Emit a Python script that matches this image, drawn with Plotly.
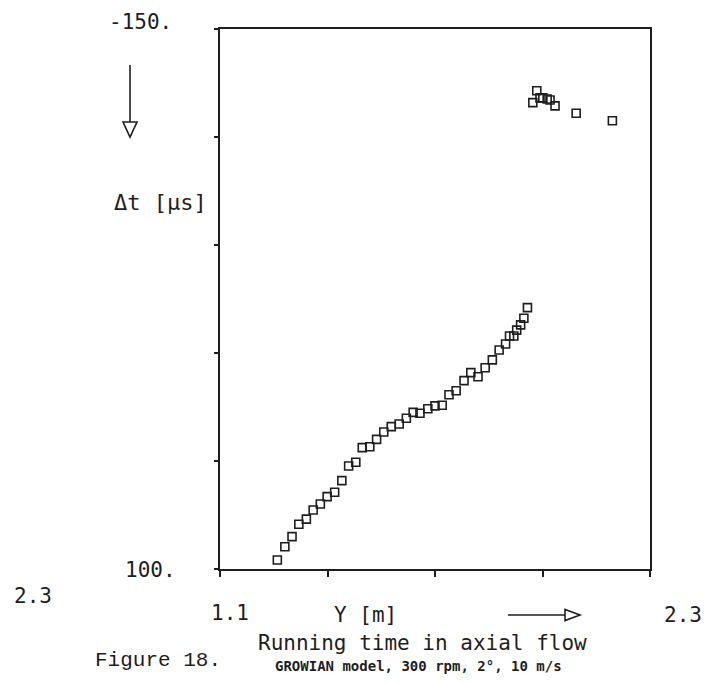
import plotly.graph_objects as go

# ---- data ----
y_pos_m = [1.260, 1.281, 1.301, 1.320, 1.341, 1.360, 1.380, 1.399, 1.420, 1.440,
           1.459, 1.479, 1.497, 1.518, 1.537, 1.557, 1.578, 1.600, 1.620, 1.639,
           1.658, 1.680, 1.700, 1.720, 1.739, 1.759, 1.781, 1.800, 1.820, 1.840,
           1.860, 1.879, 1.897, 1.908, 1.920, 1.928, 1.939, 1.948, 1.958,
           1.973, 1.984, 1.993, 2.001, 2.013, 2.021, 2.035, 2.094, 2.195]
delta_t_us = [95.8, 89.7, 85.0, 79.3, 76.9, 72.7, 69.9, 66.5, 64.5, 59.1,
              52.3, 50.6, 43.8, 43.4, 40.0, 36.6, 34.1, 32.9, 30.2, 27.5,
              27.9, 25.8, 24.5, 24.2, 19.3, 17.5, 12.8, 9.1, 11.0, 6.8,
              3.2, -1.4, -4.2, -7.9, -7.9, -10.6, -13.0, -16.1, -21.0,
              -115.9, -121.4, -118.1, -118.1, -117.6, -117.1, -114.4, -111.0, -107.5]

x_ticks = [1.1, 1.4, 1.7, 2.0, 2.3]
y_ticks = [-150, -100, -50, 0, 50, 100]
x_range = [1.1, 2.3]
y_range = [100, -150]
x_min_label = "1.1"
x_max_label = "2.3"
y_top_label = "-150."
y_bot_label = "100."
x_title = "Y [m]"
y_title = "\u0394t [\u00b5s]"
title_main = "Running time in axial flow"
subtitle = "GROWIAN model, 300 rpm, 2\u00b0, 10 m/s"
fig_label = "Figure 18."
stray_label = "2.3"

# ---- layout geometry ----
W, H = 715, 684
ML, MR, MT, MB = 220, 65, 29, 115
PW, PH = W - ML - MR, H - MT - MB


def px(x):
    return (x - ML) / PW


def py(y):
    return (H - MB - y) / PH


INK = "#1e1e1e"
MONO = "DejaVu Sans Mono"

fig = go.Figure()
fig.add_trace(go.Scatter(
    x=y_pos_m, y=delta_t_us, mode="markers",
    marker=dict(symbol="square-open", size=8, color=INK, line=dict(width=1.6, color=INK)),
    showlegend=False, hoverinfo="skip",
))

fig.update_layout(
    width=W, height=H,
    margin=dict(l=ML, r=MR, t=MT, b=MB, pad=0),
    paper_bgcolor="white", plot_bgcolor="white",
    xaxis=dict(range=x_range, tickvals=x_ticks, showticklabels=False, ticks="outside",
               ticklen=6, tickwidth=2, tickcolor=INK, showline=True, linewidth=2,
               linecolor=INK, mirror=True, showgrid=False, zeroline=False),
    yaxis=dict(range=y_range, tickvals=y_ticks, showticklabels=False, ticks="outside",
               ticklen=4, tickwidth=2, tickcolor=INK, showline=True, linewidth=2,
               linecolor=INK, mirror=True, showgrid=False, zeroline=False),
)


def label(text, x, y, size=21, family=MONO, xanchor="center", bold=False):
    fig.add_annotation(
        text=f"<b>{text}</b>" if bold else text,
        x=px(x), y=py(y), xref="paper", yref="paper",
        xanchor=xanchor, yanchor="middle", showarrow=False,
        font=dict(family=family, size=size, color=INK),
    )


label(y_top_label, 140, 22)
label(y_title, 160, 203, size=22)
label(y_bot_label, 150, 570)
label(stray_label, 33, 596)
label(x_min_label, 230, 613)
label(x_title, 365, 615)
label(x_max_label, 683, 615)
label(title_main, 422, 643)
label(fig_label, 158, 660, family="Liberation Mono")
label(subtitle, 418, 666, size=14, bold=True)

# down arrow (y direction)
line_style = dict(color=INK, width=1.6)
fig.add_shape(type="line", xref="paper", yref="paper",
              x0=px(130), x1=px(130), y0=py(65), y1=py(122), line=line_style)
fig.add_shape(type="path", xref="paper", yref="paper",
              path=f"M {px(123)},{py(122)} L {px(137)},{py(122)} L {px(130)},{py(137)} Z",
              line=line_style, fillcolor="white")
# right arrow (x direction)
fig.add_shape(type="line", xref="paper", yref="paper",
              x0=px(508), x1=px(565), y0=py(615), y1=py(615), line=line_style)
fig.add_shape(type="path", xref="paper", yref="paper",
              path=f"M {px(565)},{py(609.5)} L {px(565)},{py(620.5)} L {px(580)},{py(615)} Z",
              line=line_style, fillcolor="white")

fig.write_html("out.html")
